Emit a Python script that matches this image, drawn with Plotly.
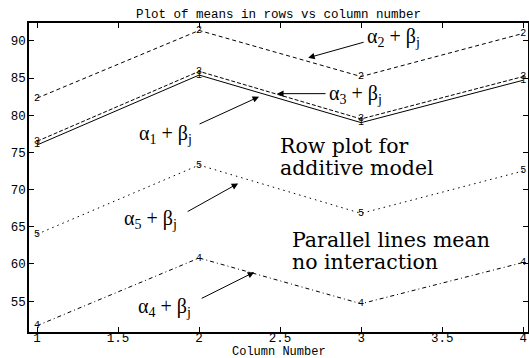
import plotly.graph_objects as go

# Data
columns = [1, 2, 3, 4]
row1 = [76.0, 85.4, 79.0, 84.7]
row2 = [82.3, 91.4, 85.2, 91.0]
row3 = [76.5, 85.9, 79.5, 85.2]
row4 = [51.7, 60.8, 54.65, 60.2]
row5 = [64.0, 73.3, 66.8, 72.5]
row_names = ["1", "2", "3", "4", "5"]
x_ticks = [1, 1.5, 2, 2.5, 3, 3.5, 4]
x_tick_labels = ["1", "1.5", "2", "2.5", "3", "3.5", "4"]
y_ticks = [55, 60, 65, 70, 75, 80, 85, 90]
y_tick_labels = ["55", "60", "65", "70", "75", "80", "85", "90"]

MONO = "Liberation Mono, Courier New, monospace"
SERIF = "DejaVu Serif, serif"
SERIF2 = "Liberation Serif, Times New Roman, serif"

series = [
    (row1, "1", "solid"),
    (row3, "3", "4px,2px"),
    (row2, "2", "4px,3px"),
    (row5, "5", "1.5px,4px"),
    (row4, "4", "4px,3px,1px,3px"),
]

fig = go.Figure()
for vals, name, dash in series:
    fig.add_trace(go.Scatter(
        x=columns, y=vals, mode="lines+text",
        text=[name] * len(columns), textposition="middle center",
        textfont=dict(family=MONO, size=10, color="black"),
        line=dict(color="black", width=1, dash=dash),
        showlegend=False, hoverinfo="skip", cliponaxis=False,
    ))

annotations = []
# arrows: head (x, y) in data, tail offset in px
arrows = [
    (2.370, 82.49, -61, 28),
    (2.673, 87.72, 57, -16),
    (2.481, 82.90, 50, 0),
    (2.241, 70.83, -52, 29),
    (2.340, 58.90, -54, 27),
]
for hx, hy, ax, ay in arrows:
    annotations.append(dict(
        x=hx, y=hy, xref="x", yref="y", ax=ax, ay=ay, axref="pixel", ayref="pixel",
        text="", showarrow=True, arrowhead=2, arrowsize=1.3, arrowwidth=1,
        arrowcolor="black", standoff=0, startstandoff=0,
    ))

alpha_labels = [
    ("α<sub>1</sub> + β<sub>j</sub>", 1.623, 77.4),
    ("α<sub>2</sub> + β<sub>j</sub>", 3.031, 90.4),
    ("α<sub>3</sub> + β<sub>j</sub>", 2.796, 82.76),
    ("α<sub>5</sub> + β<sub>j</sub>", 1.531, 66.0),
    ("α<sub>4</sub> + β<sub>j</sub>", 1.617, 54.2),
]
for txt, tx, ty in alpha_labels:
    annotations.append(dict(
        x=tx, y=ty, xref="x", yref="y", text=txt, showarrow=False,
        xanchor="left", yanchor="middle", borderpad=0,
        font=dict(family=SERIF2, size=20, color="black"),
    ))

notes = [
    ("Row plot for", 2.488, 75.9),
    ("additive model", 2.488, 72.95),
    ("Parallel lines mean", 2.562, 63.2),
    ("no interaction", 2.562, 60.25),
]
for txt, tx, ty in notes:
    annotations.append(dict(
        x=tx, y=ty, xref="x", yref="y", text=txt, showarrow=False,
        xanchor="left", yanchor="middle",
        font=dict(family=SERIF, size=20.5, color="black"),
    ))

annotations.append(dict(
    x=0.5, y=-(351.5 - 332) / 309, xref="paper", yref="paper",
    text="Column Number", showarrow=False, xanchor="center", yanchor="middle",
    borderpad=0,
    font=dict(family=MONO, size=12, color="black"),
))

fig.update_layout(
    width=529, height=358,
    margin=dict(l=29, r=1, t=23, b=26, autoexpand=False),
    paper_bgcolor="white", plot_bgcolor="white",
    title=dict(text="Plot of means in rows vs column number",
               x=0.5265, xanchor="center", y=1 - 14 / 358, yanchor="middle",
               yref="container", automargin=False,
               font=dict(family=MONO, size=12.5, color="black")),
    annotations=annotations,
    xaxis=dict(
        range=[0.95, 4.03], tickvals=x_ticks, ticktext=x_tick_labels,
        ticks="inside", ticklen=5, tickcolor="black", showgrid=False, zeroline=False,
        showline=True, linecolor="black", linewidth=1.5, mirror="ticks",
        tickfont=dict(family=MONO, size=12.5, color="black"),
        automargin=False, ticklabelstandoff=-7,
    ),
    yaxis=dict(
        range=[50.85, 92.4], tickvals=y_ticks, ticktext=y_tick_labels,
        ticks="inside", ticklen=5, tickcolor="black", showgrid=False, zeroline=False,
        showline=True, linecolor="black", linewidth=1.5, mirror="ticks",
        tickfont=dict(family=MONO, size=12.5, color="black"),
        automargin=False, ticklabelstandoff=-1,
    ),
)

fig.write_html(
    "out.html",
    config={"displayModeBar": False},
    post_script="document.body.style.margin='0';document.body.style.overflow='hidden';",
)
